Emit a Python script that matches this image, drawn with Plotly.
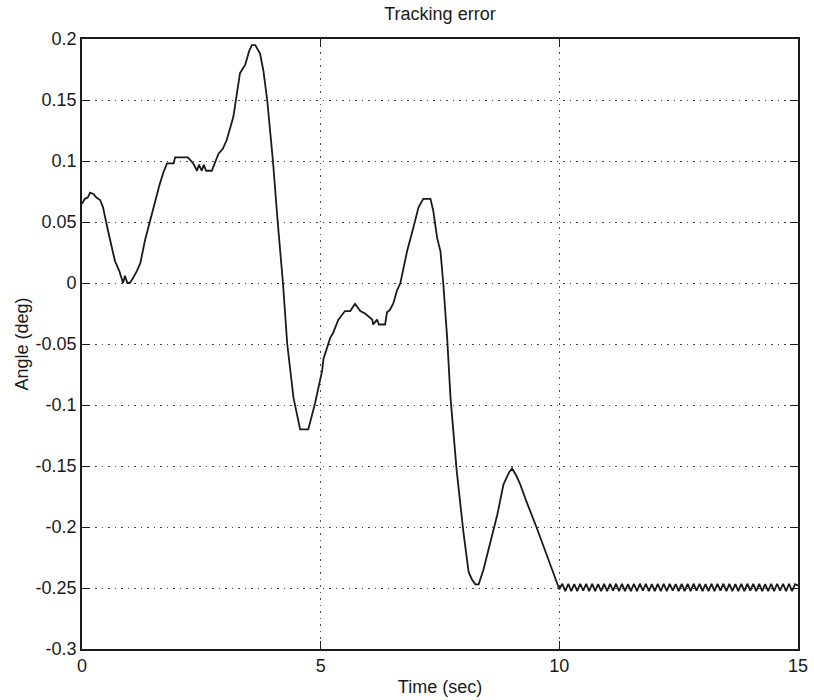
import plotly.graph_objects as go

# Main transient part
time_main = [0.00, 0.06, 0.12, 0.17, 0.24, 0.30, 0.38, 0.44, 0.55, 0.69, 0.78, 0.86, 0.90, 0.95,
             1.00, 1.07, 1.15, 1.22, 1.32, 1.42, 1.53, 1.62, 1.70, 1.78, 1.92, 1.95, 2.22, 2.33,
             2.41, 2.45, 2.51, 2.55, 2.60, 2.72, 2.80, 2.86, 2.95, 3.03, 3.17, 3.31, 3.42, 3.50,
             3.56, 3.63, 3.73, 3.80, 3.88, 4.00, 4.10, 4.21, 4.30, 4.43, 4.57, 4.74, 4.88, 5.03,
             5.06, 5.20, 5.26, 5.37, 5.51, 5.62, 5.72, 5.83, 5.93, 6.03, 6.08, 6.10, 6.18, 6.22,
             6.35, 6.39, 6.45, 6.52, 6.60, 6.67, 6.81, 6.94, 7.05, 7.15, 7.30, 7.36, 7.44, 7.51,
             7.57, 7.65, 7.72, 7.85, 7.99, 8.10, 8.17, 8.24, 8.31, 8.41, 8.55, 8.70, 8.83, 8.95,
             9.01, 9.10, 9.18, 9.30, 9.53, 9.74, 10.00]
angle_main = [0.065, 0.069, 0.070, 0.074, 0.073, 0.070, 0.068, 0.062, 0.042, 0.018, 0.010, 0.000, 0.006, 0.000,
              0.000, 0.004, 0.010, 0.016, 0.035, 0.050, 0.068, 0.080, 0.090, 0.098, 0.098, 0.103, 0.103, 0.098,
              0.092, 0.097, 0.092, 0.097, 0.092, 0.092, 0.100, 0.106, 0.110, 0.117, 0.136, 0.172, 0.179, 0.190,
              0.195, 0.195, 0.188, 0.174, 0.150, 0.100, 0.050, 0.000, -0.050, -0.094, -0.120, -0.120, -0.099, -0.072,
              -0.062, -0.045, -0.041, -0.030, -0.023, -0.023, -0.017, -0.023, -0.025, -0.028, -0.030, -0.034, -0.030, -0.034,
              -0.034, -0.024, -0.022, -0.017, -0.006, 0.000, 0.026, 0.045, 0.062, 0.069, 0.069, 0.059, 0.037, 0.026,
              -0.001, -0.045, -0.094, -0.154, -0.204, -0.237, -0.243, -0.247, -0.247, -0.235, -0.214, -0.190, -0.165, -0.155,
              -0.152, -0.158, -0.165, -0.178, -0.201, -0.223, -0.251]

# Steady-state chatter after t = 10 s
time_tail = [10.0625, 10.125, 10.1875, 10.25, 10.3125, 10.375, 10.4375, 10.5, 10.5625, 10.625, 10.6875, 10.75, 10.8125, 10.875, 10.9375, 11.0,
             11.0625, 11.125, 11.1875, 11.25, 11.3125, 11.375, 11.4375, 11.5, 11.5625, 11.625, 11.6875, 11.75, 11.8125, 11.875, 11.9375, 12.0,
             12.0625, 12.125, 12.1875, 12.25, 12.3125, 12.375, 12.4375, 12.5, 12.5625, 12.625, 12.6875, 12.75, 12.8125, 12.875, 12.9375, 13.0,
             13.0625, 13.125, 13.1875, 13.25, 13.3125, 13.375, 13.4375, 13.5, 13.5625, 13.625, 13.6875, 13.75, 13.8125, 13.875, 13.9375, 14.0,
             14.0625, 14.125, 14.1875, 14.25, 14.3125, 14.375, 14.4375, 14.5, 14.5625, 14.625, 14.6875, 14.75, 14.8125, 14.875, 14.9375, 15.0]
angle_tail = [-0.2465, -0.2525, -0.2465, -0.2525, -0.2468, -0.2525, -0.2465, -0.2522, -0.2465, -0.2525, -0.2465, -0.2525, -0.2468, -0.2525, -0.2465, -0.2525,
              -0.2465, -0.2522, -0.2465, -0.2525, -0.2465, -0.2525, -0.2468, -0.2525, -0.2465, -0.2525, -0.2465, -0.2522, -0.2465, -0.2525, -0.2468, -0.2525,
              -0.2465, -0.2525, -0.2465, -0.2525, -0.2465, -0.2522, -0.2468, -0.2525, -0.2465, -0.2525, -0.2465, -0.2525, -0.2465, -0.2522, -0.2465, -0.2525,
              -0.2468, -0.2525, -0.2465, -0.2525, -0.2465, -0.2522, -0.2465, -0.2525, -0.2465, -0.2525, -0.2468, -0.2525, -0.2465, -0.2525, -0.2465, -0.2522,
              -0.2465, -0.2525, -0.2465, -0.2525, -0.2468, -0.2525, -0.2465, -0.2525, -0.2465, -0.2522, -0.2465, -0.2525, -0.2465, -0.2525, -0.2468, -0.2480]

x_ticks = [0, 5, 10, 15]
y_ticks = [0.2, 0.15, 0.1, 0.05, 0, -0.05, -0.1, -0.15, -0.2, -0.25, -0.3]
y_tick_labels = ["0.2", "0.15", "0.1", "0.05", "0", "-0.05", "-0.1", "-0.15", "-0.2", "-0.25", "-0.3"]

fig = go.Figure()
fig.add_trace(go.Scatter(x=time_main + time_tail, y=angle_main + angle_tail, mode="lines",
                         line=dict(color="#1a1a1a", width=1.8), showlegend=False))

font_family = "Liberation Sans, Arial, Helvetica, sans-serif"
grid_style = dict(showgrid=True, gridcolor="#444444", gridwidth=1, griddash="1.5px,5px",
                  showline=True, linecolor="#1a1a1a", linewidth=1.6, mirror="ticks",
                  ticks="inside", ticklen=8, tickcolor="#1a1a1a", tickwidth=1.3,
                  zeroline=False, automargin=False,
                  tickfont=dict(family=font_family, size=18, color="#1a1a1a"))

fig.update_layout(
    width=814, height=700,
    margin=dict(l=82, r=16, t=39, b=51),
    paper_bgcolor="white", plot_bgcolor="white",
    title=dict(text="Tracking error", x=0.5405, xanchor="center", y=0.99, yanchor="top",
               font=dict(family=font_family, size=18, color="#1a1a1a")),
    xaxis=dict(range=[0, 15], tickvals=x_ticks, ticktext=[str(v) for v in x_ticks],
               title=dict(text="Time (sec)", font=dict(family=font_family, size=18, color="#1a1a1a"), standoff=5),
               **grid_style),
    yaxis=dict(range=[-0.3, 0.2], tickvals=y_ticks, ticktext=y_tick_labels,
               title=dict(text="Angle (deg)", font=dict(family=font_family, size=18, color="#1a1a1a"), standoff=2),
               **grid_style),
)

fig.write_html("out.html")
